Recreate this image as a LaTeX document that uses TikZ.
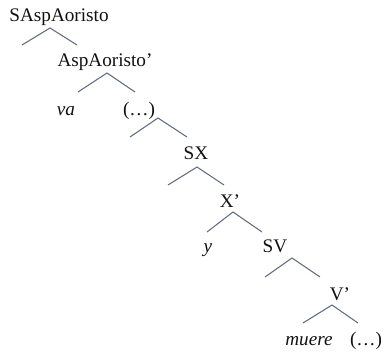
\documentclass[tikz,border=0pt]{standalone}
\usepackage{fontspec}
\setmainfont{Liberation Serif}
\usepackage{tikz}
\usetikzlibrary{positioning, calc}
\definecolor{branchgray}{HTML}{66707F}
\definecolor{labelblack}{HTML}{111111}

\begin{document}
\begin{tikzpicture}[x=0.5pt, y=-0.5pt, font=\fontsize{9.6}{11}\selectfont, text=labelblack]
        \tikzset{lbl/.style={inner sep=0pt, anchor=base}, branch/.style={draw=branchgray, line width=0.55pt}}
        \useasboundingbox (0,0) rectangle (383,353);

        % labels
        \node[lbl] (sasp) at (59,22) {SAspAoristo};
        \node[lbl] (asp) at (105,67) {AspAoristo’};
        \node[lbl] (va) at (66,115) {\itshape va};
        \node[lbl] (dots1) at (139,115) {(…)};
        \node[lbl] (sx) at (196,159) {SX};
        \node[lbl] (xbar) at (230,207) {X’};
        \node[lbl] (y) at (208,252) {\itshape y};
        \node[lbl] (sv) at (275,252) {SV};
        \node[lbl] (vbar) at (340,300) {V’};
        \node[lbl] (muere) at (309,345) {\itshape muere};
        \node[lbl] (dots2) at (366,345) {(…)};

        % branch points
        \coordinate (t1) at (50,28);  \coordinate (l1) at (22,45);  \coordinate (r1) at (77,45);
        \coordinate (t2) at (107,73); \coordinate (l2) at (78,92);  \coordinate (r2) at (135,92);
        \coordinate (t3) at (158,118); \coordinate (l3) at (130,137); \coordinate (r3) at (187,137);
        \coordinate (t4) at (197,167); \coordinate (l4) at (168,185); \coordinate (r4) at (224,185);
        \coordinate (t5) at (233,212); \coordinate (l5) at (207,232); \coordinate (r5) at (262,232);
        \coordinate (t6) at (292,258); \coordinate (l6) at (265,277); \coordinate (r6) at (320,277);
        \coordinate (t7) at (332,305); \coordinate (l7) at (303,323); \coordinate (r7) at (358,323);

        \draw[branch] (l1) -- (t1) -- (r1);
        \draw[branch] (l2) -- (t2) -- (r2);
        \draw[branch] (l3) -- (t3) -- (r3);
        \draw[branch] (l4) -- (t4) -- (r4);
        \draw[branch] (l5) -- (t5) -- (r5);
        \draw[branch] (l6) -- (t6) -- (r6);
        \draw[branch] (l7) -- (t7) -- (r7);
    \end{tikzpicture}
\end{document}
